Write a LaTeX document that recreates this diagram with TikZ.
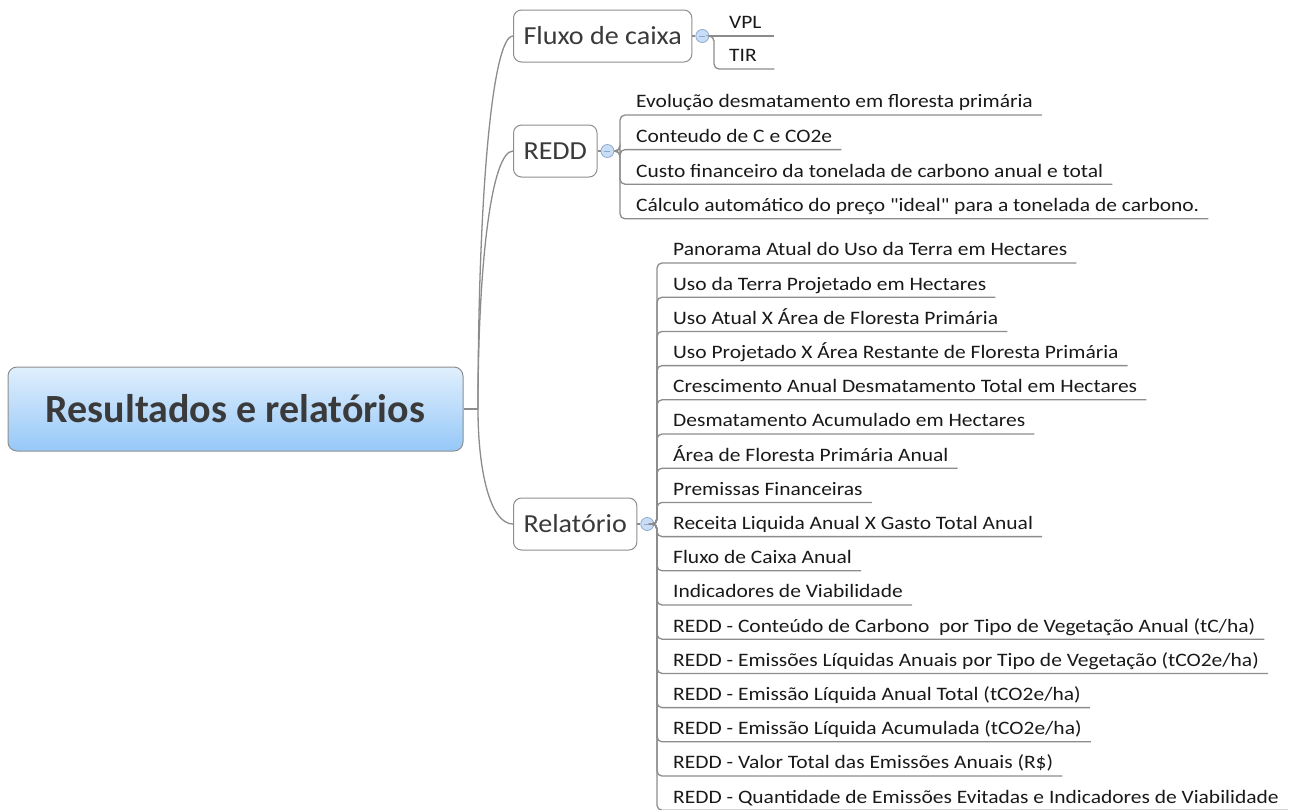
\documentclass[tikz,border=0pt]{standalone}
\usepackage{fontspec}
\setmainfont{Carlito}
\newfontfamily\topicface[FakeStretch=1.08]{Carlito}
\newfontfamily\leafface[FakeStretch=1.13]{Carlito}
\usetikzlibrary{positioning}

\definecolor{linegray}{HTML}{8C8C8C}
\definecolor{boxgray}{HTML}{8E8E8E}
\definecolor{txtgray}{HTML}{3A3A3A}
\definecolor{rootTop}{HTML}{E0EFFD}
\definecolor{rootBot}{HTML}{96C8F8}
\definecolor{btnfill}{HTML}{C9DDF7}
\definecolor{btnline}{HTML}{8FA9CC}

\newcommand{\rootfont}{\fontsize{40}{48}\selectfont\bfseries}
\newcommand{\topicfont}{\topicface\fontsize{26}{30}\selectfont}
\newcommand{\leaffont}{\leafface\fontsize{19}{22}\selectfont}

\tikzset{
  conn/.style={draw=linegray, line width=1.3pt},
  rootbox/.style={rounded corners=9pt, draw=boxgray, line width=1pt,
    top color=rootTop, bottom color=rootBot, minimum width=455pt,
    minimum height=84pt, font=\rootfont, text=txtgray},
  topicbox/.style={rounded corners=8pt, draw=boxgray, line width=1pt,
    fill=white, font=\topicfont, text=txtgray, inner xsep=10pt,
    minimum height=52pt, anchor=west},
  foldbtn/.style={circle, draw=btnline, fill=btnfill, line width=0.8pt,
    minimum size=13pt, inner sep=0pt,
    path picture={\draw[btnline, line width=1pt]
      ([xshift=-3pt]path picture bounding box.center) --
      ([xshift=3pt]path picture bounding box.center);}},
  leaf/.style={anchor=south west, font=\leaffont, text=black!90,
    inner xsep=9pt, inner ysep=3pt, text height=13pt, text depth=4pt},
}

\begin{document}
\begin{tikzpicture}[x=1pt, y=-1pt]
  \useasboundingbox (0,0) rectangle (1292,809);

  % central topic
  \node[rootbox] (root) at (235.5,409) {Resultados e relatórios};

  % main branches
  \node[topicbox] (fluxo) at (513,36) {Fluxo de caixa};
  \node[topicbox] (redd) at (513,151) {REDD};
  \node[topicbox] (rel) at (513,524) {Relatório};

  \coordinate (hub) at (478,409);
  \draw[conn] (root.east) -- (hub);
  \draw[conn] (hub) .. controls (478,200) and (492,36) .. (fluxo.west);
  \draw[conn] (hub) .. controls (478,260) and (492,151) .. (redd.west);
  \draw[conn] (hub) .. controls (478,470) and (490,524) .. (rel.west);

  \node[foldbtn, right=3pt of fluxo] (bF) {};
  \node[foldbtn, right=3pt of redd] (bD) {};
  \node[foldbtn, right=3pt of rel] (bR) {};
  \draw[conn] (fluxo.east) -- (bF.west);
  \draw[conn] (redd.east) -- (bD.west);
  \draw[conn] (rel.east) -- (bR.west);

  % Fluxo de caixa
  \node[leaf, text width=36pt] (vpl) at (720,36) {VPL};
  \node[leaf, text width=36pt] (tir) at (720,69) {TIR};
  \draw[conn] (bF.east) -- (vpl.south west) -- (vpl.south east);
  \draw[conn, rounded corners=5pt] (bF.east) -| ([xshift=-6pt]tir.south west) -- (tir.south east);

  % REDD
  \foreach \txt [count=\i] in {Evolução desmatamento em floresta primária,
      Conteudo de C e CO2e,
      Custo financeiro da tonelada de carbono anual e total,
      Cálculo automático do preço \char34 ideal\char34{} para a tonelada de carbono.}{
    \node[leaf] (d\i) at (627,{115+34.6*(\i-1)}) {\txt};
    \draw[conn, rounded corners=5pt] (bD.east) -| ([xshift=-7pt]d\i.south west) -- (d\i.south east);
  }

  % Relatorio
  \foreach \txt [count=\i] in {Panorama Atual do Uso da Terra em Hectares,
      Uso da Terra Projetado em Hectares,
      Uso Atual X Área de Floresta Primária,
      Uso Projetado X Área Restante de Floresta Primária,
      Crescimento Anual Desmatamento Total em Hectares,
      Desmatamento Acumulado em Hectares,
      Área de Floresta Primária Anual,
      Premissas Financeiras,
      Receita Liquida Anual X Gasto Total Anual,
      Fluxo de Caixa Anual,
      Indicadores de Viabilidade,
      REDD - Conteúdo de Carbono~ por Tipo de Vegetação Anual (tC/ha),
      REDD - Emissões Líquidas Anuais por Tipo de Vegetação (tCO2e/ha),
      REDD - Emissão Líquida Anual Total (tCO2e/ha),
      REDD - Emissão Líquida Acumulada (tCO2e/ha),
      REDD - Valor Total das Emissões Anuais (R\$),
      REDD - Quantidade de Emissões Evitadas e Indicadores de Viabilidade}{
    \node[leaf] (r\i) at (664,{263+34.2*(\i-1)}) {\txt};
    \draw[conn, rounded corners=5pt] (bR.east) -| ([xshift=-7pt]r\i.south west) -- (r\i.south east);
  }
\end{tikzpicture}
\end{document}
